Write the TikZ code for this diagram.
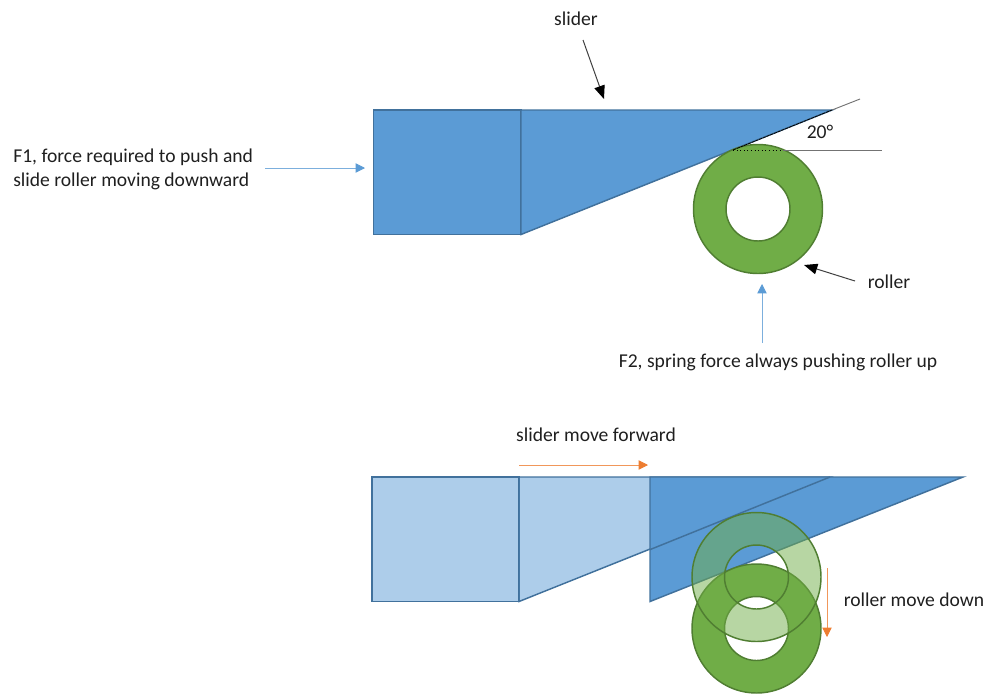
\documentclass[tikz,border=0pt]{standalone}
\usepackage{fontspec}
\setmainfont{Carlito}
\usetikzlibrary{arrows.meta}
\definecolor{sliderblue}{HTML}{5B9BD5}
\definecolor{sliderline}{HTML}{41719C}
\definecolor{rollergreen}{HTML}{70AD47}
\definecolor{rollerline}{HTML}{507E32}
\definecolor{moveorange}{HTML}{ED7D31}
\tikzset{
    slider/.style={fill=sliderblue, draw=sliderline, line width=1.1pt, line join=miter},
    ghost/.style={slider, fill opacity=0.5},
    roller/.style={fill=rollergreen, draw=rollerline, line width=1.1pt, even odd rule},
    label/.style={text=black!88, font=\fontsize{14.7}{18}\selectfont, inner sep=0pt},
    guide/.style={draw=black!55, line width=0.7pt},
    force/.style={draw=sliderblue!80, line width=0.6pt, -{Triangle[length=7pt, width=7pt, color=sliderblue]}},
    pointer/.style={draw=black!75, line width=0.75pt, -{Triangle[length=10pt, width=8pt, color=black]}},
    move/.style={draw=moveorange!80, line width=0.6pt, -{Triangle[length=7pt, width=7pt, color=moveorange]}}
}
\begin{document}
\begin{tikzpicture}[x=0.75pt, y=-0.75pt]
\useasboundingbox (0,0) rectangle (1000,694);
\begin{scope}[every node/.style={label}]
    \node (slider) at (576,19) {slider};
    \node[align=left, anchor=west] (f1) at (13,169) {F1, force required to push and\\slide roller moving downward};
    \node (angle) at (820,132) {20°};
    \node (rollertext) at (889,282) {roller};
    \node (f2) at (778,362) {F2, spring force always pushing roller up};
    \node (forward) at (596,435) {slider move forward};
    \node (down) at (914,600) {roller move down};
\end{scope}
\coordinate (a1) at (733,150);
\coordinate (a2) at (860,99);
\coordinate (a3) at (882,150);
\coordinate (a4) at (783,150);
\coordinate (a5) at (832,110);
\coordinate (push) at (365,168);
\coordinate (pushstart) at (265,168);
\coordinate (tipslider) at (604,99);
\coordinate (tailslider) at (583,40);
\coordinate (tiproller) at (804,265);
\coordinate (tailroller) at (855,281);
\coordinate (tipf2) at (762,284);
\coordinate (tailf2) at (762,343);
\coordinate (fwd1) at (519,465);
\coordinate (fwd2) at (648,465);
\coordinate (dwn1) at (827,568);
\coordinate (dwn2) at (827,637);
\filldraw[slider] (373.5,110) rectangle (521,234.5);
\filldraw[slider] (521,110) -- (a5) -- (521,234.5) -- cycle;
\filldraw[roller] (758,209) circle (64.5) (758,209) circle (32);
\draw[guide] (a5) -- (a2);
\draw[guide] (a4) -- (a3);
\draw[black, line width=0.6pt, dash pattern=on 2.5pt off 0.5pt] (a1) -- (a5);
\draw[black, line width=0.7pt, dotted] (a1) -- (a4);
\filldraw[ghost] (372,477) rectangle (519,601.5);
\filldraw[ghost] (519,477) -- (830,477) -- (519,601.5) -- cycle;
\filldraw[slider] (650,477) -- (963,477) -- (650,601.5) -- cycle;
\draw[sliderline, line width=1.1pt] (650,549.6) -- (830,477);
\filldraw[roller] (756.5,628.5) circle (64.5) (756.5,628.5) circle (32);
\filldraw[roller, fill opacity=0.5] (756.5,577) circle (64.5) (756.5,577) circle (32);
\draw[force] (pushstart) -- (push);
\draw[force] (tailf2) -- (tipf2);
\draw[pointer] (tailslider) -- (tipslider);
\draw[pointer] (tailroller) -- (tiproller);
\draw[move] (fwd1) -- (fwd2);
\draw[move] (dwn1) -- (dwn2);
\end{tikzpicture}
\end{document}
